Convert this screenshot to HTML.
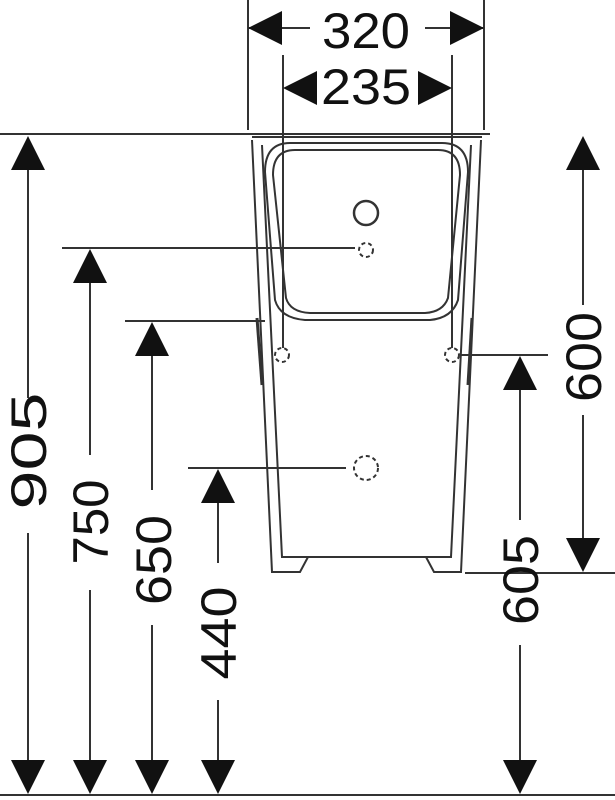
<!DOCTYPE html>
<html><head><style>html,body{margin:0;padding:0;background:#fff}svg{display:block}</style></head>
<body>
<svg width="615" height="800" viewBox="0 0 615 800" xmlns="http://www.w3.org/2000/svg">
<g stroke="#333" stroke-width="2" fill="none">
<!-- base lines -->
<line x1="0" y1="134" x2="490" y2="134"/>
<line x1="0" y1="795" x2="615" y2="795"/>
<!-- 320 -->
<line x1="248" y1="0" x2="248" y2="130"/>
<line x1="484" y1="0" x2="484" y2="130"/>
<line x1="248" y1="28" x2="310" y2="28"/>
<line x1="425" y1="28" x2="484" y2="28"/>
<!-- 235 -->
<line x1="283" y1="55" x2="283" y2="348"/>
<line x1="452" y1="55" x2="452" y2="348"/>
<!-- body outer -->
<path d="M252,137 L482,137"/>
<path d="M252,140 L272,572 L300,572 L308,557 L426,557 L434,572 L461,572 L481,140"/>
<path d="M262,145 L282,557 L308,557"/>
<path d="M471,145 L451,557 L426,557"/>
<!-- bowl -->
<path d="M290,143 H442 Q468,143 468,172 L458,300 Q452,318 430,320 H305 Q280,318 275,300 L265,172 Q265,143 290,143 Z"/>
<path d="M295,150 H438 Q460,150 460,175 L448,298 Q443,312 425,313 H310 Q290,312 286,298 L273,175 Q273,150 295,150 Z"/>
<line x1="257" y1="318" x2="262" y2="385" stroke-width="3"/>
<line x1="472" y1="318" x2="468" y2="385" stroke-width="3"/>
<!-- circles -->
<circle cx="366" cy="213" r="12" stroke-width="2.5"/>
<circle cx="366" cy="250" r="7" stroke-dasharray="4 3"/>
<circle cx="282" cy="355" r="7" stroke-dasharray="4 3"/>
<circle cx="452" cy="355" r="7" stroke-dasharray="4 3"/>
<circle cx="366" cy="468" r="12" stroke-dasharray="4 3"/>
<!-- leaders -->
<line x1="62" y1="248" x2="355" y2="248"/>
<line x1="125" y1="321" x2="265" y2="321"/>
<line x1="188" y1="468" x2="346" y2="468"/>
<line x1="460" y1="355" x2="548" y2="355"/>
<line x1="465" y1="573" x2="615" y2="573"/>
<!-- vertical dim lines -->
<line x1="28" y1="150" x2="28" y2="398"/><line x1="28" y1="533" x2="28" y2="780"/>
<line x1="90" y1="260" x2="90" y2="455"/><line x1="90" y1="590" x2="90" y2="780"/>
<line x1="152" y1="335" x2="152" y2="490"/><line x1="152" y1="625" x2="152" y2="780"/>
<line x1="218" y1="480" x2="218" y2="563"/><line x1="218" y1="700" x2="218" y2="780"/>
<line x1="583" y1="150" x2="583" y2="305"/><line x1="583" y1="415" x2="583" y2="560"/>
<line x1="520" y1="365" x2="520" y2="520"/><line x1="520" y1="645" x2="520" y2="780"/>
</g>
<g fill="#111">
<!-- horizontal arrows -->
<polygon points="248,28 282,11 282,45"/>
<polygon points="484,28 450,11 450,45"/>
<polygon points="283,88 317,71 317,105"/>
<polygon points="452,88 418,71 418,105"/>
<!-- vertical arrows -->
<polygon points="28,136 11,170 45,170"/><polygon points="28,794 11,760 45,760"/>
<polygon points="90,249 73,283 107,283"/><polygon points="90,794 73,760 107,760"/>
<polygon points="152,322 135,356 169,356"/><polygon points="152,794 135,760 169,760"/>
<polygon points="218,469 201,503 235,503"/><polygon points="218,794 201,760 235,760"/>
<polygon points="583,136 566,170 600,170"/><polygon points="583,572 566,538 600,538"/>
<polygon points="520,356 503,390 537,390"/><polygon points="520,794 503,760 537,760"/>
</g>
<g font-family="Liberation Sans, sans-serif" font-size="50" fill="#111" text-anchor="middle">
<text x="366" y="48" textLength="88" lengthAdjust="spacingAndGlyphs">320</text>
<text x="366" y="104" textLength="90" lengthAdjust="spacingAndGlyphs">235</text>
<text transform="translate(46,451) rotate(-90)" textLength="117" lengthAdjust="spacingAndGlyphs">905</text>
<text transform="translate(108,522) rotate(-90)" textLength="85" lengthAdjust="spacingAndGlyphs">750</text>
<text transform="translate(171,560) rotate(-90)" textLength="90" lengthAdjust="spacingAndGlyphs">650</text>
<text transform="translate(236,633) rotate(-90)" textLength="93" lengthAdjust="spacingAndGlyphs">440</text>
<text transform="translate(601,357) rotate(-90)" textLength="90" lengthAdjust="spacingAndGlyphs">600</text>
<text transform="translate(538,580) rotate(-90)" textLength="90" lengthAdjust="spacingAndGlyphs">605</text>
</g>
</svg>
</body></html>
